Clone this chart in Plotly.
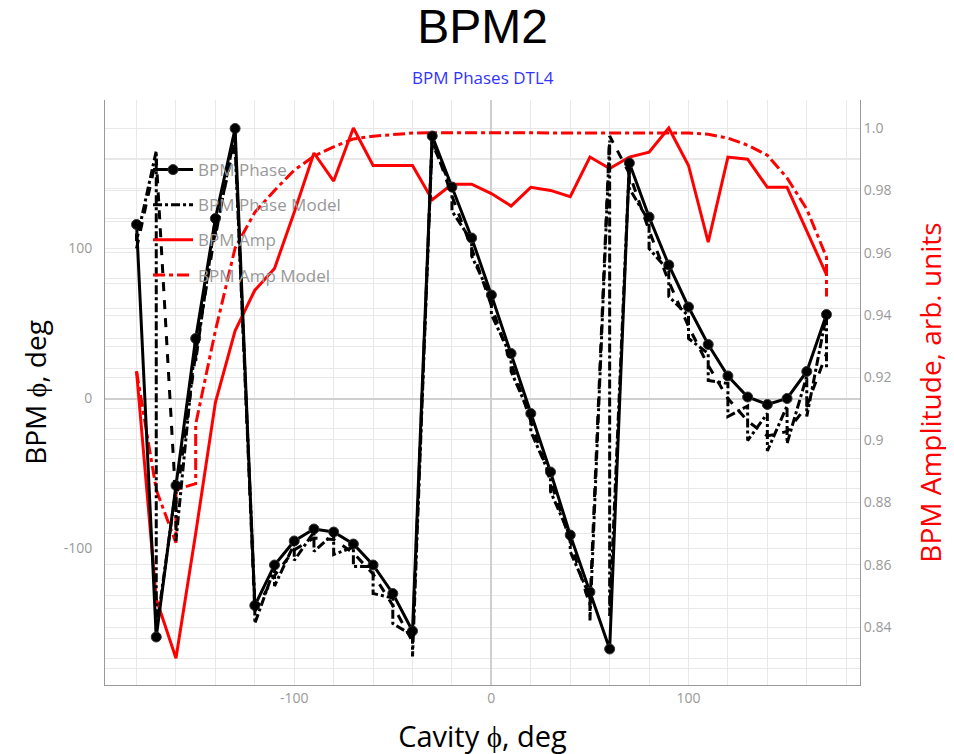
import plotly.graph_objects as go

# ---------------- data ----------------
cavity_phase = [-180, -170, -160, -150, -140, -130, -120, -110, -100, -90,
                -80, -70, -60, -50, -40, -30, -20, -10, 0, 10,
                20, 30, 40, 50, 60, 70, 80, 90, 100, 110,
                120, 130, 140, 150, 160, 170]

bpm_phase = [116, -159, -58, 40, 120, 180, -138, -111, -95, -87,
             -89, -97, -111, -130, -155, 175, 141, 107, 69, 30,
             -10, -49, -91, -129, -167, 157, 121, 89, 61, 36,
             15, 1, -4, 0, 18, 56]

bpm_amp = [0.922, 0.849, 0.830, 0.870, 0.912, 0.935, 0.948, 0.955, 0.973, 0.992,
           0.983, 1.000, 0.988, 0.988, 0.988, 0.977, 0.982, 0.982, 0.979, 0.975,
           0.981, 0.980, 0.978, 0.9907, 0.987, 0.9907, 0.9923, 1.000, 0.988, 0.9634,
           0.9907, 0.990, 0.981, 0.981, 0.967, 0.953]

# phase model: upper / lower value at each cavity phase
phase_model_upper = [110, 165, -60, 40, 120, 178, -136, -113, -97, -89,
                     -90, -99, -112, -133, -158, 175, 140, 105, 67, 28,
                     -12, -52, -92, -132, 172, 157, 118, 85, 55, 30,
                     10, -5, -10, -5, 15, 56]
phase_model_lower = [105, -155, -95, 25, 108, 168, -150, -125, -108, -102,
                     -104, -112, -130, -150, -172, 170, 125, 95, 56, 18,
                     -22, -62, -102, -148, -145, 140, 100, 68, 40, 12,
                     -12, -28, -35, -30, -12, 20]
# second model curve
phase_model2 = [100, 160, -70, 30, 112, 172, -142, -118, -101, -93,
                -94, -103, -117, -138, -162, 173, 135, 100, 62, 24,
                -15, -55, -95, -138, 175, 150, 112, 78, 48, 22,
                0, -15, -25, -22, -5, 30]

amp_model_x = [-180, -170, -160, -160, -150, -150, -140, -130, -120, -110,
               -100, -90, -80, -70, -60, -50, -40, -30, -20, -10,
               0, 10, 20, 30, 40, 50, 60, 70, 80, 90,
               100, 110, 120, 130, 140, 150, 160, 170, 170]
amp_model = [0.922, 0.884, 0.867, 0.884, 0.886, 0.905, 0.935, 0.9615, 0.973, 0.980,
             0.9865, 0.991, 0.994, 0.9965, 0.9974, 0.998, 0.9984, 0.9985, 0.9985, 0.9985,
             0.9985, 0.9985, 0.9985, 0.9985, 0.9985, 0.9985, 0.9985, 0.9985, 0.9985, 0.9985,
             0.9984, 0.998, 0.9968, 0.9945, 0.9913, 0.984, 0.974, 0.9586, 0.946]

phase_ticks = [-100, 0, 100]
phase_tick_text = ["-100", "0", "100"]
amp_ticks = [0.84, 0.86, 0.88, 0.90, 0.92, 0.94, 0.96, 0.98, 1.0]
amp_tick_text = ["0.84", "0.86", "0.88", "0.9", "0.92", "0.94", "0.96", "0.98", "1.0"]

# build zig-zag path for model (upper then lower at each x)
pm_x, pm_y = [], []
for xv, up, lo in zip(cavity_phase, phase_model_upper, phase_model_lower):
    pm_x += [xv, xv]
    pm_y += [up, lo]

fig = go.Figure()

# black traces on overlaying axis (drawn on top)
fig.add_trace(go.Scatter(x=cavity_phase, y=bpm_phase, name="BPM Phase", mode="lines+markers",
                         line=dict(color="black", width=3),
                         marker=dict(color="black", size=10, line=dict(color="#333", width=1)),
                         yaxis="y2", legendgroup="a"))
fig.add_trace(go.Scatter(x=pm_x, y=pm_y, name="BPM Phase Model", mode="lines",
                         line=dict(color="black", width=3, dash="dashdot"),
                         yaxis="y2", legendgroup="b"))
fig.add_trace(go.Scatter(x=cavity_phase, y=phase_model2, name="BPM Phase Model", mode="lines",
                         line=dict(color="black", width=3, dash="dash"),
                         yaxis="y2", legendgroup="b", showlegend=False))
# red traces on base axis
fig.add_trace(go.Scatter(x=cavity_phase, y=bpm_amp, name="BPM Amp", mode="lines",
                         line=dict(color="red", width=3), yaxis="y", legendgroup="c"))
fig.add_trace(go.Scatter(x=amp_model_x, y=amp_model, name="BPM Amp Model", mode="lines",
                         line=dict(color="red", width=3, dash="12px,4px,4px,4px"),
                         yaxis="y", legendgroup="d"))

grid = "#e8e8e8"
tickfont = dict(family="Open Sans", size=14, color="#999999")

fig.update_layout(
    width=954, height=754,
    margin=dict(l=97, r=102, t=92, b=77),
    paper_bgcolor="white", plot_bgcolor="white",
    title=dict(text="BPM2", x=0.5, xref="paper", xanchor="center",
               y=1, yanchor="top", pad=dict(t=1),
               font=dict(family="Liberation Sans", size=48, color="black")),
    xaxis=dict(range=[-196, 187], tickvals=phase_ticks, ticktext=phase_tick_text,
               automargin=False,
               showgrid=True, gridcolor=grid, zeroline=True, zerolinecolor="#cfcfcf",
               minor=dict(dtick=20, tick0=0, showgrid=True, gridcolor=grid),
               showline=True, linecolor="#999999", linewidth=1, mirror=False,
               tickfont=tickfont, ticks="",
               title=dict(text="Cavity ϕ, deg", standoff=20,
                          font=dict(family="Open Sans", size=29, color="black"))),
    yaxis=dict(range=[0.8214, 1.009], side="right", tickvals=amp_ticks, ticktext=amp_tick_text,
               automargin=False,
               showgrid=True, gridcolor=grid, zeroline=False,
               minor=dict(dtick=0.01, tick0=0, showgrid=True, gridcolor=grid),
               showline=True, linecolor="#999999", linewidth=1,
               tickfont=tickfont, ticks="",
               title=dict(text="BPM Amplitude, arb. units", standoff=30,
                          font=dict(family="Open Sans", size=28, color="red"))),
    yaxis2=dict(range=[-191, 199], side="left", overlaying="y", tickvals=phase_ticks,
                ticktext=phase_tick_text, automargin=False, ticklabelstandoff=9,
                showgrid=True, gridcolor=grid, zeroline=True, zerolinecolor="#cfcfcf",
                minor=dict(dtick=20, tick0=0, showgrid=True, gridcolor=grid),
                showline=True, linecolor="#999999", linewidth=1,
                tickfont=tickfont, ticks="",
                title=dict(text="BPM ϕ, deg", standoff=8,
                           font=dict(family="Open Sans", size=28, color="black"))),
    legend=dict(x=0.057, y=0.911, xanchor="left", yanchor="top", bgcolor="rgba(0,0,0,0)",
                traceorder="grouped", tracegroupgap=10, itemwidth=40,
                font=dict(family="Open Sans", size=17, color="#999999")),
    annotations=[dict(text="BPM Phases DTL4", x=0.5, xref="paper", y=1 + 22 / 585, yref="paper",
                      xanchor="center", yanchor="middle", showarrow=False,
                      font=dict(family="Open Sans", size=17, color="#3333ff"))],
    shapes=[dict(type="rect", xref="paper", yref="paper",
                 x0=(949 - 105) / 755, x1=(954 - 105) / 755,
                 y0=1 - (754 - 100) / 585, y1=1 - (62 - 100) / 585,
                 fillcolor="#3a3a3a", line=dict(width=0))],
)

fig.write_html("out.html")
